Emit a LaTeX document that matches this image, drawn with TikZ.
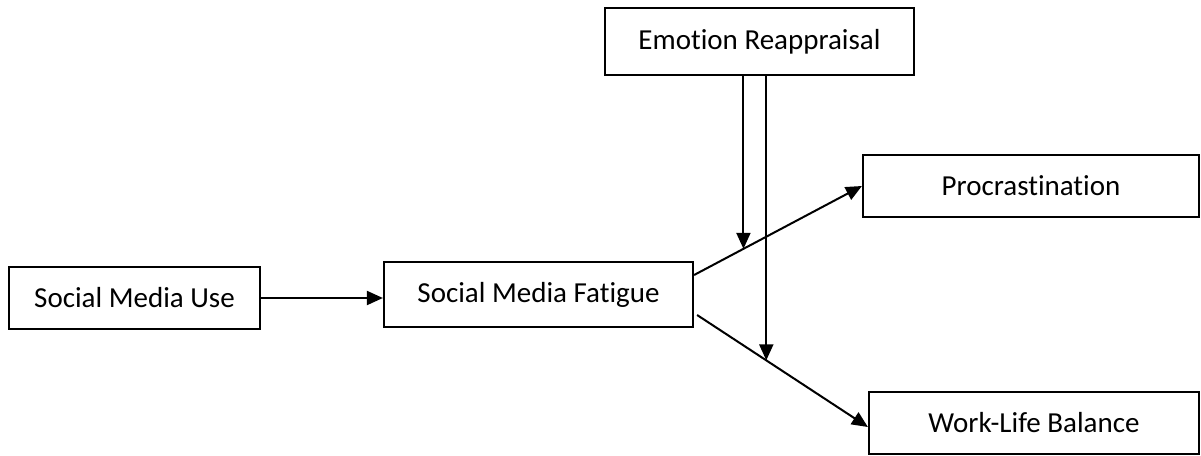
\documentclass[tikz,border=0pt]{standalone}
\usepackage{fontspec}
\setmainfont{Carlito}[Ligatures=NoCommon]
\usetikzlibrary{arrows.meta,calc}
\begin{document}
\begin{tikzpicture}[x=1pt,y=-1pt,
  box/.style={draw=black,line width=2.2pt,fill=white,inner sep=0pt,font=\fontsize{29}{34}\selectfont},
  arr/.style={draw=black,line width=2pt,-{Triangle[length=16pt,width=14pt]}}]
\useasboundingbox (0,0) rectangle (1201,455);
\node[box,minimum width=251pt,minimum height=62pt] (smu) at (134.5,298) {Social Media Use};
\node[box,minimum width=309pt,minimum height=65pt] (smf) at (538.5,294.5) {Social Media Fatigue};
\node[box,minimum width=309pt,minimum height=67pt] (er) at (759.5,41.5) {Emotion Reappraisal};
\node[box,minimum width=336pt,minimum height=62pt] (pro) at (1031,186) {Procrastination};
\node[box,minimum width=330pt,minimum height=62pt] (wlb) at (1034,423) {Work-Life Balance};
\draw[arr] (smu.east) -- (smu.east -| smf.west);
\coordinate (s1) at ([yshift=19.5pt]smf.east);
\coordinate (s2) at ([xshift=3pt,yshift=-20.5pt]smf.east);
\coordinate (e2) at ([yshift=-4pt]wlb.west);
\draw[arr] (s1) -- (pro.west) coordinate[pos=0.294] (m1);
\draw[arr] (s2) -- (e2) coordinate[pos=0.405] (m2);
\draw[arr] (er.south -| m1) -- (m1);
\draw[arr] (er.south -| m2) -- (m2);
\end{tikzpicture}
\end{document}
